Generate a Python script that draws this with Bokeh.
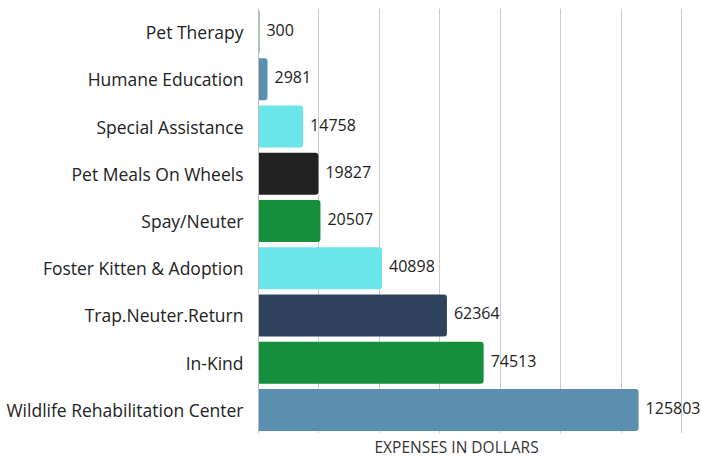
from bokeh.plotting import figure
from bokeh.models import ColumnDataSource, FactorRange, Range1d, Title, FixedTicker
from bokeh.core.properties import value
from bokeh.embed import file_html
from bokeh.resources import INLINE

categories = ["Pet Therapy", "Humane Education", "Special Assistance", "Pet Meals On Wheels",
              "Spay/Neuter", "Foster Kitten & Adoption", "Trap.Neuter.Return", "In-Kind",
              "Wildlife Rehabilitation Center"]
expenses = [300, 2981, 14758, 19827, 20507, 40898, 62364, 74513, 125803]
colors = ["#138f3e", "#5b8fb0", "#6ae6ea", "#222222", "#138f3e", "#6ae6ea", "#2f435e", "#138f3e", "#5b8fb0"]
x_ticks = [0, 20000, 40000, 60000, 80000, 100000, 120000, 140000]
axis_title = "EXPENSES IN DOLLARS"

FONT = "Open Sans"

src = ColumnDataSource(dict(cat=categories, val=expenses, color=colors,
                            lbl=[str(v) for v in expenses]))

p = figure(width=701, height=459, output_backend="svg", toolbar_location=None,
           y_range=FactorRange(factors=categories[::-1]), x_range=Range1d(0, 146620),
           min_border_left=258, min_border_right=0, min_border_top=8, min_border_bottom=26)
p.outline_line_color = None
p.background_fill_color = "white"
p.border_fill_color = "white"

p.hbar(y="cat", right="val", left=0, height=0.89, fill_color="color", line_color=None,
       border_radius=(0, 3, 3, 0), source=src)
p.text(x="val", y="cat", text="lbl", x_offset=7, y_offset=-2, text_baseline="middle", text_align="left",
       text_font=value(FONT), text_font_size="16px", text_color="#222222", source=src)

p.xgrid.ticker = FixedTicker(ticks=x_ticks)
p.xgrid.grid_line_color = "#cccccc"
p.ygrid.grid_line_color = None
p.xaxis.ticker = FixedTicker(ticks=x_ticks)
p.xaxis.visible = False

p.yaxis.axis_line_color = "#bbbbbb"
p.yaxis.major_tick_line_color = None
p.yaxis.minor_tick_line_color = None
p.yaxis.major_label_text_font = FONT
p.yaxis.major_label_text_font_size = "17.5px"
p.yaxis.major_label_text_color = "#222222"
p.yaxis.major_label_standoff = 9

t = Title(text=axis_title, align="left", offset=116, text_font=FONT, text_font_size="15.5px",
          text_font_style="normal", text_color="#333333", standoff=0, vertical_align="bottom")
p.add_layout(t, "below")

open("out.html", "w").write(file_html(p, INLINE))
